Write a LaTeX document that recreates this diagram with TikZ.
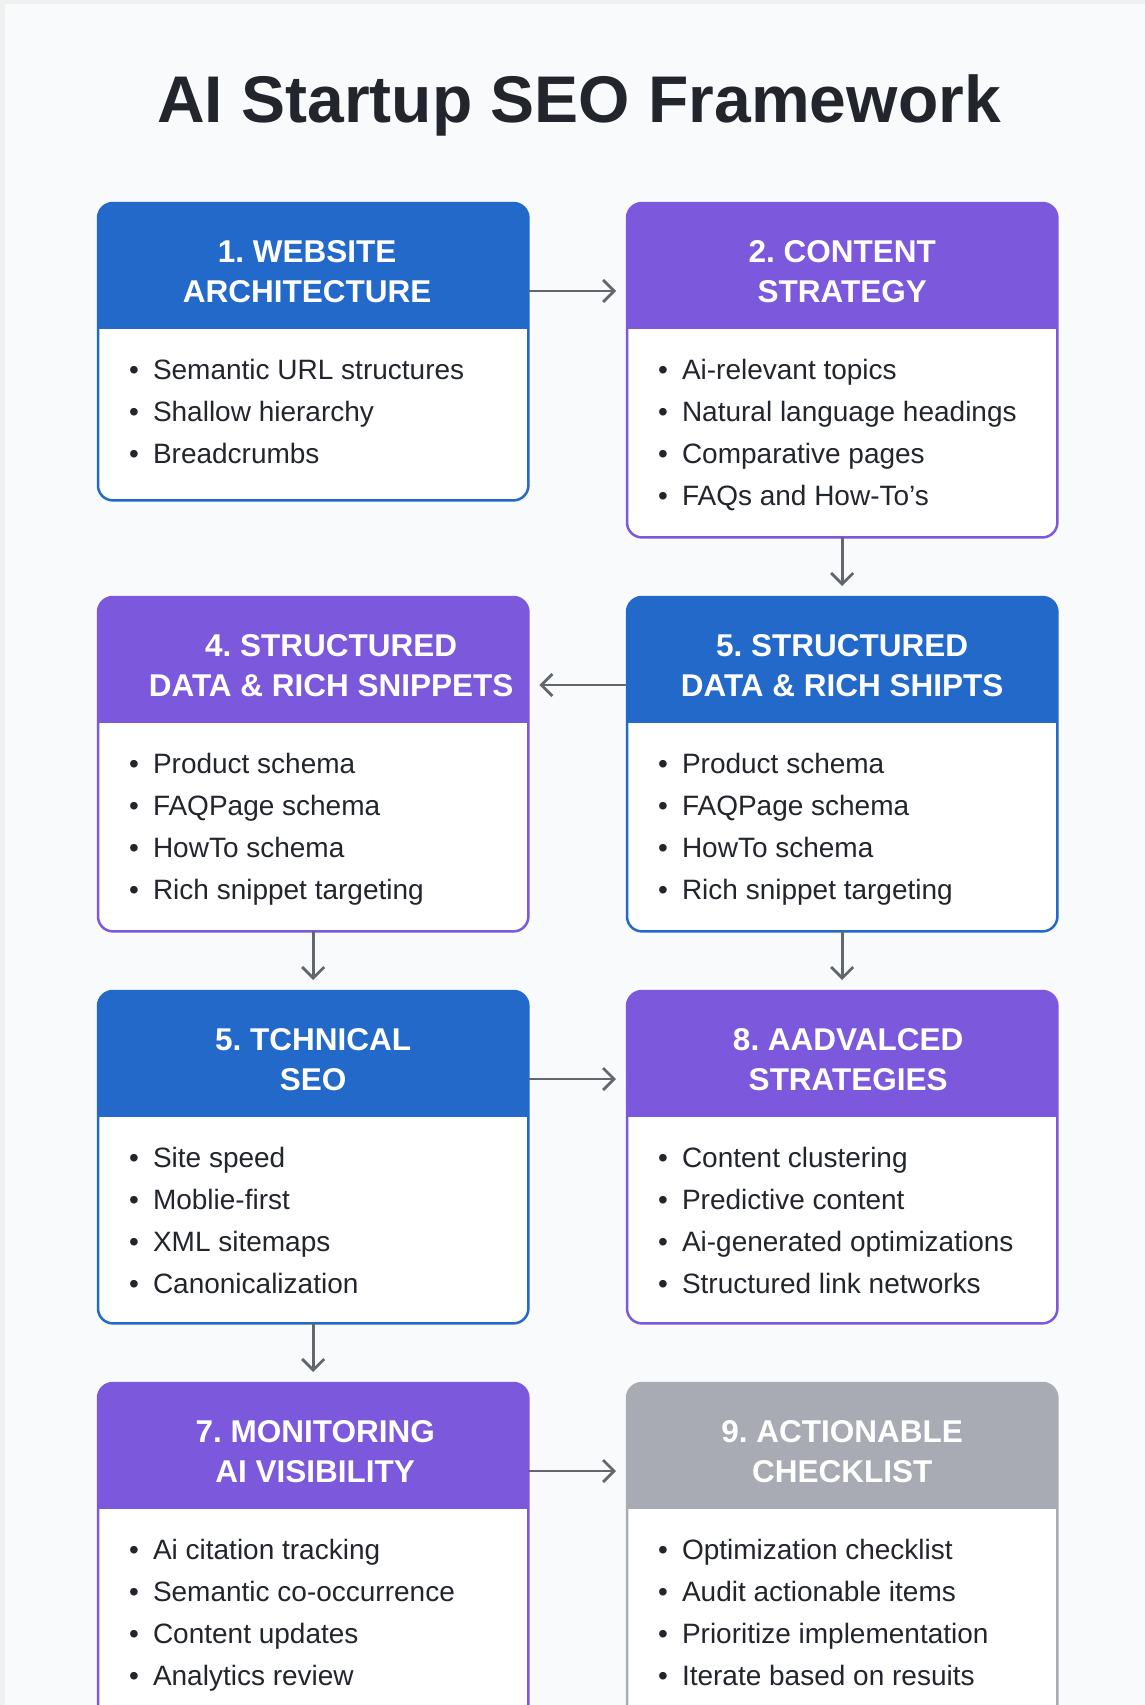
\documentclass[tikz,border=0pt]{standalone}
\usepackage{fontspec}
\setmainfont{Liberation Sans}
\usetikzlibrary{positioning}
\usetikzlibrary{arrows.meta}
\definecolor{seoblue}{HTML}{2369C9}
\definecolor{seopurple}{HTML}{7C58DC}
\definecolor{seogray}{HTML}{A8ABB4}
\definecolor{seoink}{HTML}{22262C}
\definecolor{seoarrow}{HTML}{62666D}
\definecolor{seobg}{HTML}{F9FAFB}
\frenchspacing
\tikzset{>={Straight Barb[length=11pt,width=22pt]}}
\tikzset{card/.style={minimum width=430pt, inner sep=0pt, anchor=north west}}
\tikzset{head/.style={text=white, font=\fontsize{31.5}{40}\selectfont\bfseries, align=center, inner sep=0pt, anchor=north}}
\tikzset{items/.style={text=seoink, font=\fontsize{28}{42}\selectfont, align=left, inner sep=0pt, anchor=north west}}
\tikzset{flow/.style={->, draw=seoarrow, line width=2.8pt, shorten >=11pt}}
\tikzset{title/.style={text=seoink, font=\fontsize{66}{70}\selectfont\bfseries, anchor=base}}

\newcommand{\itm}{\textbullet\hspace{14pt}}
% [heading shift], name, x, top, height, colour, heading, items
\newcommand{\seocard}[8][0pt]{%
  \node[card, minimum height=#5] (#2) at (#3,#4) {};
  \begin{scope}
    \clip[rounded corners=15pt] (#2.north west) rectangle (#2.south east);
    \fill[white] (#2.north west) rectangle (#2.south east);
    \fill[#6] (#2.north west) rectangle ([yshift=-126pt]#2.north east);
  \end{scope}
  \draw[#6, line width=2.5pt, rounded corners=15pt] (#2.north west) rectangle (#2.south east);
  \node[head] (#2-head) at ([xshift=#1,yshift=-37pt]#2.north) {#7};
  \node[items] (#2-list) at ([xshift=31pt,yshift=-156pt]#2.north west) {#8};
}

\begin{document}
\begin{tikzpicture}[x=1pt,y=-1pt]
\clip (0,0) rectangle (1145,1705);
\fill[black!6] (0,0) rectangle (1145,1705);
\fill[seobg] (5,4) rectangle (1145,1705);

\node[title] (title) at (579,122) {AI Startup SEO Framework};

\seocard[-6pt]{arch}{98}{203}{297pt}{seoblue}{1. WEBSITE\\ARCHITECTURE}
  {\itm Semantic URL structures\\\itm Shallow hierarchy\\\itm Breadcrumbs}
\seocard{content}{627}{203}{334pt}{seopurple}{2. CONTENT\\STRATEGY}
  {\itm Ai-relevant topics\\\itm Natural language headings\\\itm Comparative pages\\\itm FAQs and How-To’s}
\seocard[18pt]{snippets}{98}{597}{334pt}{seopurple}{4. STRUCTURED\\DATA \& RICH SNIPPETS}
  {\itm Product schema\\\itm FAQPage schema\\\itm HowTo schema\\\itm Rich snippet targeting}
\seocard{shipts}{627}{597}{334pt}{seoblue}{5. STRUCTURED\\DATA \& RICH SHIPTS}
  {\itm Product schema\\\itm FAQPage schema\\\itm HowTo schema\\\itm Rich snippet targeting}
\seocard{tech}{98}{991}{332pt}{seoblue}{5. TCHNICAL\\SEO}
  {\itm Site speed\\\itm Moblie-first\\\itm XML sitemaps\\\itm Canonicalization}
\seocard[6pt]{adv}{627}{991}{332pt}{seopurple}{8. AADVALCED\\STRATEGIES}
  {\itm Content clustering\\\itm Predictive content\\\itm Ai-generated optimizations\\\itm Structured link networks}
\seocard[2pt]{monitor}{98}{1383}{360pt}{seopurple}{7. MONITORING\\AI VISIBILITY}
  {\itm Ai citation tracking\\\itm Semantic co-occurrence\\\itm Content updates\\\itm Analytics review}
\seocard{check}{627}{1383}{360pt}{seogray}{9. ACTIONABLE\\CHECKLIST}
  {\itm Optimization checklist\\\itm Audit actionable items\\\itm Prioritize implementation\\\itm Iterate based on resuits}

% flow between the cards
\draw[flow] ([yshift=-88pt]arch.north east) -- ([yshift=-88pt]content.north west);
\draw[flow] (content.south) -- (shipts.north);
\draw[flow] ([yshift=-88pt]shipts.north west) -- ([yshift=-88pt]snippets.north east);
\draw[flow] (snippets.south) -- (tech.north);
\draw[flow] (shipts.south) -- (adv.north);
\draw[flow] ([yshift=-88pt]tech.north east) -- ([yshift=-88pt]adv.north west);
\draw[flow] (tech.south) -- (monitor.north);
\draw[flow] ([yshift=-88pt]monitor.north east) -- ([yshift=-88pt]check.north west);
\end{tikzpicture}
\end{document}
